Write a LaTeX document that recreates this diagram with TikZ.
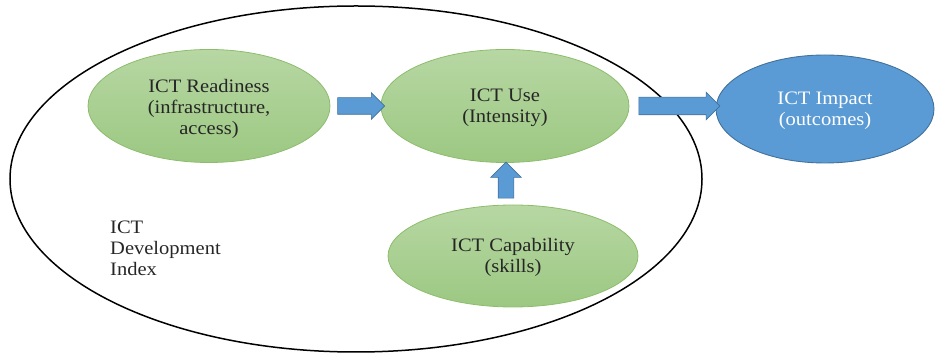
\documentclass[tikz,border=0pt]{standalone}
\usepackage{fontspec}
\setmainfont{Liberation Serif}
\newfontfamily\diagfont[FakeStretch=1.08]{Liberation Serif}
\usetikzlibrary{shapes.geometric,shapes.arrows}
\definecolor{gtop}{HTML}{B7D7A3}
\definecolor{gbot}{HTML}{9CC882}
\definecolor{gline}{HTML}{8DBD6C}
\definecolor{bfill}{HTML}{5B9BD5}
\definecolor{bline}{HTML}{41719C}
\newcommand{\topstrut}[1]{\rule{0pt}{#1}}
\tikzset{
  dfont/.style={font=\diagfont\fontsize{19}{21}\selectfont},
  greenell/.style={ellipse, draw=gline, line width=0.8pt, top color=gtop, bottom color=gbot, align=center, dfont, text=black!85, inner sep=0pt},
  blueell/.style={ellipse, draw=bline, line width=0.9pt, fill=bfill, align=center, dfont, text=white, inner sep=0pt},
  blockarrow/.style={single arrow, draw=bline, line width=0.6pt, fill=bfill, text height=0pt, text depth=0pt, text width=0pt},
}
\begin{document}
\begin{tikzpicture}[x=1pt,y=1pt]
\useasboundingbox (0,0) rectangle (936,358);
\node[ellipse, draw=black, line width=1.5pt, minimum width=692pt, minimum height=346pt, inner sep=0pt] (idx) at (356,179) {};
\node[greenell, minimum width=242pt, minimum height=113pt] (ready) at (209,252) {\topstrut{20pt}ICT Readiness\\(infrastructure,\\access)};
\node[greenell, minimum width=248pt, minimum height=113pt] (use) at (505,252) {\topstrut{17pt}ICT Use\\(Intensity)};
\node[greenell, minimum width=250pt, minimum height=102pt] (cap) at (513,102) {\topstrut{17pt}ICT Capability\\(skills)};
\node[blueell, minimum width=218pt, minimum height=108pt] (imp) at (825,249) {\topstrut{17pt}ICT Impact\\(outcomes)};
\node[blockarrow, inner xsep=0pt, inner ysep=8pt, single arrow head extend=5pt, minimum height=47pt] (a1) at (357,252) {};
\node[blockarrow, inner xsep=0pt, inner ysep=8.5pt, single arrow head extend=5pt, minimum height=81pt] (a2) at (675,252) {};
\node[blockarrow, inner ysep=0pt, inner xsep=7.5pt, single arrow head extend=7.5pt, minimum height=36pt, shape border rotate=90] (a3) at (506,174) {};
\node[anchor=north west, align=left, dfont, inner sep=0pt, text=black!85] (lbl) at (110,137) {ICT\\Development\\Index};
\end{tikzpicture}
\end{document}
